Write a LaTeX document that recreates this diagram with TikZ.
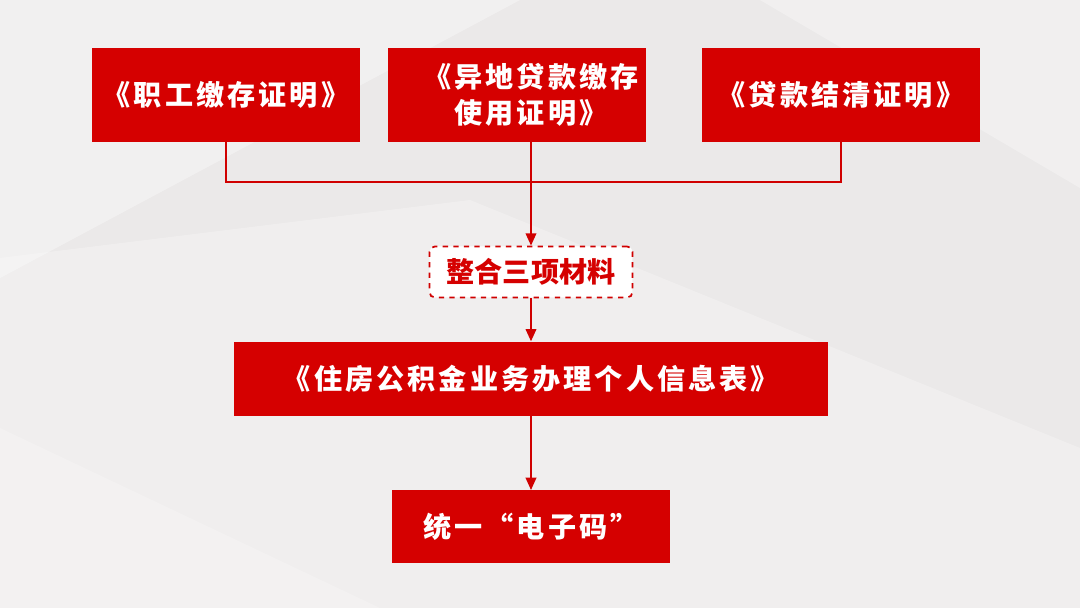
\documentclass[tikz,border=0pt]{standalone}
\usepackage{fontspec}
\setmainfont{Noto Sans CJK SC}
\newfontfamily\spacedfont[LetterSpace=11]{Noto Sans CJK SC}
\usepackage{xcolor}
\usetikzlibrary{arrows.meta,positioning}
\definecolor{boxred}{HTML}{D50000}
\definecolor{linered}{HTML}{D00000}
\definecolor{bggray}{HTML}{EBE9E9}

\begin{document}
\begin{tikzpicture}[
      x=0.02cm, y=0.02cm,
      redbox/.style={rectangle, fill=boxred, text=white, font=\spacedfont\bfseries\fontsize{16}{20.5}\selectfont, inner sep=0pt, align=center, minimum height=1.88cm},
      dashbox/.style={rectangle, draw=linered, dashed, line width=1pt, fill=white, rounded corners=3pt, text=boxred, font=\bfseries\fontsize{16}{20}\selectfont, inner sep=0pt, minimum width=4.06cm, minimum height=1.02cm},
      arrow/.style={-{Triangle[length=7pt,width=6pt]}, line width=1.1pt, draw=linered},
      link/.style={line width=1.1pt, draw=linered}
  ]

  % Background
  \fill[bggray] (0,0) rectangle (1080,608);
  \fill[white, opacity=0.35] (0,608) -- (520,608) -- (0,330) -- cycle;
  \fill[white, opacity=0.25] (0,350) -- (470,408) -- (1080,160) -- (1080,0) -- (0,0) -- cycle;
  \fill[white, opacity=0.3] (760,608) -- (1080,608) -- (1080,420) -- cycle;
  \fill[white, opacity=0.2] (0,0) -- (380,0) -- (0,180) -- cycle;
  \useasboundingbox (0,0) rectangle (1080,608);

  % Nodes
  \node (zhigong) [redbox, minimum width=5.36cm] at (226,513) {《职工缴存证明》};
  \node (yidi) [redbox, minimum width=5.18cm] at (517,513) {\hspace*{0.56cm}《异地贷款缴存\\\hspace*{0.56cm}使用证明》};
  \node (jieqing) [redbox, minimum width=5.56cm] at (841,513) {《贷款结清证明》};
  \node (zhenghe) [dashbox] at (531,336) {整合三项材料};
  \node (xinxi) [redbox, minimum width=11.88cm, minimum height=1.48cm, below=0.86cm of zhenghe.south, anchor=north] {《住房公积金业务办理个人信息表》};
  \node (dianzima) [redbox, minimum width=5.56cm, minimum height=1.46cm, below=1.48cm of xinxi.south, anchor=north] {统一“电子码”};

  % Arrows
  \draw [link] (zhigong.south) -- ++(0,-40) -| (jieqing.south);
  \draw [arrow] (yidi.south -| zhenghe.north) -- (zhenghe.north);
  \draw [arrow] (zhenghe.south) -- (xinxi.north -| zhenghe.south);
  \draw [arrow] (xinxi.south -| zhenghe.south) -- (dianzima.north -| zhenghe.south);

  \end{tikzpicture}
\end{document}
